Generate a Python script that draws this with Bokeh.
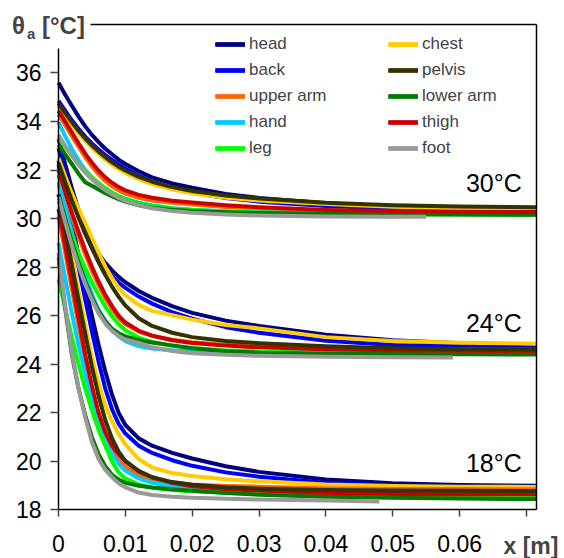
from bokeh.plotting import figure
from bokeh.models import Legend, LegendItem, Label, LinearAxis, FixedTicker, Range1d
from bokeh.embed import file_html
from bokeh.resources import INLINE

# ---------------- data ----------------
parts = ["head", "back", "upper arm", "hand", "leg", "chest", "pelvis", "lower arm", "thigh", "foot"]
part_colors = ["#000080", "#0000FF", "#FF6600", "#00CCFF", "#00FF00",
               "#FFCC00", "#333300", "#007A00", "#CC0000", "#999999"]

x_grid = [0, 0.001, 0.002, 0.003, 0.004, 0.005, 0.006, 0.007, 0.008, 0.009, 0.010,
          0.012, 0.014, 0.017, 0.020, 0.025, 0.030, 0.040, 0.050, 0.060, 0.0715]
x_foot_30 = [0, 0.001, 0.002, 0.003, 0.004, 0.005, 0.006, 0.007, 0.008, 0.009, 0.010,
             0.012, 0.014, 0.017, 0.020, 0.025, 0.030, 0.040, 0.050, 0.055]
x_foot_24 = [0, 0.001, 0.002, 0.003, 0.004, 0.005, 0.006, 0.007, 0.008, 0.009, 0.010,
             0.012, 0.014, 0.017, 0.020, 0.025, 0.030, 0.040, 0.050, 0.059]
x_foot_18 = [0, 0.001, 0.002, 0.003, 0.004, 0.005, 0.006, 0.007, 0.008, 0.009, 0.010,
             0.012, 0.014, 0.017, 0.020, 0.025, 0.030, 0.040, 0.048]

# ambient 30 °C
head_30 = [35.6, 35.1, 34.65, 34.2, 33.8, 33.45, 33.15, 32.88, 32.65, 32.43, 32.25, 31.95, 31.7, 31.45, 31.27, 31.02, 30.85, 30.63, 30.5, 30.44, 30.4]
back_30 = [34.85, 34.45, 34.05, 33.7, 33.38, 33.1, 32.85, 32.62, 32.42, 32.23, 32.06, 31.77, 31.53, 31.27, 31.08, 30.85, 30.7, 30.52, 30.42, 30.36, 30.33]
chest_30 = [34.65, 34.25, 33.87, 33.52, 33.2, 32.92, 32.66, 32.43, 32.22, 32.04, 31.88, 31.62, 31.42, 31.2, 31.04, 30.86, 30.75, 30.6, 30.49, 30.43, 30.39]
pelvis_30 = [34.75, 34.35, 33.97, 33.62, 33.3, 33.02, 32.76, 32.53, 32.32, 32.14, 31.98, 31.72, 31.52, 31.3, 31.14, 30.95, 30.83, 30.65, 30.55, 30.5, 30.47]
upper_arm_30 = [34.3, 33.85, 33.4, 32.95, 32.53, 32.15, 31.82, 31.55, 31.33, 31.16, 31.03, 30.86, 30.75, 30.65, 30.58, 30.48, 30.41, 30.32, 30.27, 30.24, 30.23]
lower_arm_30 = [33.05, 32.65, 32.25, 31.85, 31.5, 31.35, 31.2, 31.05, 30.92, 30.8, 30.7, 30.55, 30.45, 30.37, 30.31, 30.26, 30.23, 30.2, 30.18, 30.17, 30.16]
hand_30 = [33.97, 33.4, 32.87, 32.4, 32.0, 31.7, 31.45, 31.24, 31.07, 30.93, 30.82, 30.66, 30.55, 30.44, 30.37, 30.3, 30.26, 30.22, 30.2, 30.19, 30.18]
thigh_30 = [34.44, 34.0, 33.55, 33.1, 32.68, 32.3, 31.97, 31.7, 31.48, 31.3, 31.16, 30.98, 30.86, 30.74, 30.66, 30.55, 30.47, 30.36, 30.31, 30.28, 30.27]
leg_30 = [33.3, 32.95, 32.6, 32.27, 31.97, 31.7, 31.46, 31.26, 31.08, 30.93, 30.81, 30.63, 30.52, 30.42, 30.36, 30.29, 30.25, 30.2, 30.18, 30.17, 30.16]
foot_30 = [33.45, 33.0, 32.6, 32.22, 31.9, 31.62, 31.38, 31.17, 31.0, 30.85, 30.73, 30.55, 30.43, 30.31, 30.24, 30.17, 30.13, 30.09, 30.08, 30.08]

# ambient 24 °C
head_24 = [33.3, 32.25, 31.25, 30.35, 29.6, 29.0, 28.55, 28.18, 27.87, 27.6, 27.38, 27.02, 26.74, 26.4, 26.12, 25.8, 25.58, 25.22, 24.99, 24.87, 24.8]
back_24 = [32.9, 31.9, 30.95, 30.1, 29.38, 28.8, 28.33, 27.95, 27.64, 27.37, 27.15, 26.79, 26.5, 26.15, 25.88, 25.53, 25.3, 24.97, 24.8, 24.74, 24.7]
chest_24 = [32.5, 31.75, 31.05, 30.4, 29.82, 29.2, 28.6, 28.02, 27.55, 27.15, 26.85, 26.45, 26.2, 26.02, 25.84, 25.62, 25.48, 25.12, 24.96, 24.89, 24.85]
pelvis_24 = [32.3, 31.5, 30.75, 30.05, 29.4, 28.78, 28.2, 27.68, 27.2, 26.78, 26.42, 25.9, 25.58, 25.3, 25.12, 24.96, 24.87, 24.74, 24.66, 24.62, 24.6]
upper_arm_24 = [31.8, 30.9, 30.05, 29.25, 28.52, 27.85, 27.25, 26.72, 26.28, 25.9, 25.65, 25.35, 25.17, 25.01, 24.91, 24.81, 24.75, 24.67, 24.63, 24.61, 24.6]
lower_arm_24 = [31.0, 30.0, 29.05, 28.2, 27.42, 26.75, 26.2, 25.78, 25.47, 25.28, 25.15, 25.0, 24.9, 24.78, 24.66, 24.54, 24.48, 24.44, 24.42, 24.41, 24.4]
hand_24 = [31.5, 30.45, 29.45, 28.5, 27.65, 26.88, 26.25, 25.78, 25.42, 25.15, 24.96, 24.75, 24.65, 24.58, 24.55, 24.52, 24.51, 24.5, 24.5, 24.5, 24.5]
thigh_24 = [32.0, 31.1, 30.25, 29.45, 28.7, 28.02, 27.4, 26.86, 26.4, 26.0, 25.72, 25.38, 25.18, 24.99, 24.88, 24.77, 24.7, 24.62, 24.58, 24.56, 24.55]
leg_24 = [30.7, 29.95, 29.25, 28.58, 27.95, 27.38, 26.85, 26.38, 25.98, 25.65, 25.4, 25.1, 24.92, 24.76, 24.67, 24.58, 24.53, 24.48, 24.45, 24.43, 24.42]
foot_24 = [30.9, 29.85, 28.9, 28.05, 27.3, 26.65, 26.1, 25.68, 25.38, 25.17, 25.02, 24.88, 24.7, 24.55, 24.46, 24.39, 24.35, 24.31, 24.29, 24.28]

# ambient 18 °C
head_18 = [32.4, 31.1, 29.8, 28.5, 27.25, 26.0, 24.8, 23.7, 22.75, 22.0, 21.5, 20.95, 20.65, 20.35, 20.12, 19.8, 19.57, 19.26, 19.1, 19.03, 19.0]
back_18 = [32.2, 30.8, 29.4, 28.0, 26.65, 25.35, 24.1, 23.0, 22.15, 21.55, 21.15, 20.65, 20.35, 20.05, 19.82, 19.55, 19.37, 19.12, 18.99, 18.93, 18.9]
chest_18 = [31.4, 29.9, 28.45, 27.0, 25.6, 24.3, 23.2, 22.3, 21.65, 21.12, 20.7, 20.1, 19.75, 19.52, 19.4, 19.27, 19.18, 19.05, 18.99, 18.96, 18.95]
pelvis_18 = [31.0, 29.55, 28.1, 26.65, 25.25, 23.9, 22.7, 21.7, 20.95, 20.4, 20.02, 19.6, 19.35, 19.15, 19.04, 18.94, 18.88, 18.82, 18.8, 18.79, 18.78]
upper_arm_18 = [30.1, 28.6, 27.1, 25.6, 24.2, 22.95, 21.9, 21.05, 20.45, 20.05, 19.78, 19.45, 19.28, 19.13, 19.05, 18.99, 18.96, 18.9, 18.87, 18.86, 18.85]
lower_arm_18 = [28.4, 26.3, 24.4, 23.0, 21.9, 21.0, 20.3, 19.8, 19.45, 19.25, 19.12, 19.0, 18.93, 18.85, 18.79, 18.7, 18.63, 18.55, 18.5, 18.47, 18.45]
hand_18 = [29.0, 27.55, 26.1, 24.8, 23.6, 22.55, 21.65, 20.9, 20.3, 19.9, 19.62, 19.3, 19.12, 18.98, 18.91, 18.85, 18.82, 18.79, 18.77, 18.76, 18.75]
thigh_18 = [30.4, 28.9, 27.4, 25.9, 24.4, 23.1, 22.0, 21.2, 20.65, 20.3, 20.0, 19.6, 19.35, 19.12, 18.98, 18.86, 18.8, 18.7, 18.66, 18.65, 18.65]
leg_18 = [27.5, 26.3, 25.1, 24.0, 23.0, 22.1, 21.3, 20.65, 20.0, 19.55, 19.3, 19.05, 18.92, 18.82, 18.77, 18.72, 18.68, 18.56, 18.52, 18.5, 18.5]
foot_18 = [28.6, 26.4, 24.5, 23.0, 21.8, 20.8, 20.1, 19.65, 19.35, 19.1, 18.93, 18.72, 18.62, 18.55, 18.5, 18.46, 18.43, 18.39, 18.35]

x_ticks = [0, 0.01, 0.02, 0.03, 0.04, 0.05, 0.06, 0.07]
x_tick_labels = ["0", "0.01", "0.02", "0.03", "0.04", "0.05", "0.06", ""]
y_ticks = [18, 20, 22, 24, 26, 28, 30, 32, 34, 36]
ambient_labels = ["30°C", "24°C", "18°C"]

series = {
    "head": [(x_grid, head_30), (x_grid, head_24), (x_grid, head_18)],
    "back": [(x_grid, back_30), (x_grid, back_24), (x_grid, back_18)],
    "upper arm": [(x_grid, upper_arm_30), (x_grid, upper_arm_24), (x_grid, upper_arm_18)],
    "hand": [(x_grid, hand_30), (x_grid, hand_24), (x_grid, hand_18)],
    "leg": [(x_grid, leg_30), (x_grid, leg_24), (x_grid, leg_18)],
    "chest": [(x_grid, chest_30), (x_grid, chest_24), (x_grid, chest_18)],
    "pelvis": [(x_grid, pelvis_30), (x_grid, pelvis_24), (x_grid, pelvis_18)],
    "lower arm": [(x_grid, lower_arm_30), (x_grid, lower_arm_24), (x_grid, lower_arm_18)],
    "thigh": [(x_grid, thigh_30), (x_grid, thigh_24), (x_grid, thigh_18)],
    "foot": [(x_foot_30, foot_30), (x_foot_24, foot_24), (x_foot_18, foot_18)],
}

# ---------------- figure ----------------
FONT = "Liberation Sans"
X_MIN, X_MAX = 0.0, 0.0715       # visible axis extent
Y_MIN, Y_MAX = 18.0, 38.0
# the frame fills the whole canvas; axes are pinned at fixed data positions
p = figure(width=564, height=558, output_backend="svg", toolbar_location=None,
           x_range=Range1d(-0.008676, 0.07569), y_range=Range1d(16.0025, 38.984),
           min_border=0, background_fill_color="white", border_fill_color="white",
           outline_line_color=None)
p.title.visible = False
p.xgrid.visible = False
p.ygrid.visible = False

draw_order = ["head", "back", "chest", "upper arm", "hand", "leg", "lower arm", "thigh", "pelvis", "foot"]
renderers = {}
for name in draw_order:
    col = part_colors[parts.index(name)]
    renderers[name] = []
    for xs, ys in series[name]:
        r = p.line(xs, ys, line_color=col, line_width=4, line_join="round", line_cap="butt")
        renderers[name].append(r)

# axes
xa = p.xaxis[0]
xa.ticker = FixedTicker(ticks=x_ticks)
xa.major_label_overrides = {t: lab for t, lab in zip(x_ticks, x_tick_labels)}
xa.fixed_location = Y_MIN
xa.bounds = (X_MIN, X_MAX)
ya = p.yaxis[0]
ya.ticker = FixedTicker(ticks=y_ticks)
ya.fixed_location = X_MIN
ya.bounds = (Y_MIN, 37)
for ax in (xa, ya):
    ax.axis_line_color = "black"
    ax.axis_line_width = 1.5
    ax.major_tick_line_color = "#444444"
    ax.major_tick_line_width = 1.5
    ax.major_tick_in = 0
    ax.minor_tick_line_color = None
    ax.major_label_text_font = FONT
    ax.major_label_text_font_size = "23px"
    ax.major_label_text_color = "black"
xa.major_tick_out = 7
xa.major_label_standoff = 18
ya.major_tick_out = 8
ya.major_label_standoff = 9

# top and right frame lines
top_ax = LinearAxis(ticker=FixedTicker(ticks=[]), bounds=(0.0048, X_MAX), fixed_location=Y_MAX,
                    axis_line_color="black", axis_line_width=1.5,
                    major_tick_line_color=None, minor_tick_line_color=None,
                    major_label_text_font_size="0px")
p.add_layout(top_ax, "above")
right_ax = LinearAxis(ticker=FixedTicker(ticks=[]), bounds=(Y_MIN, Y_MAX), fixed_location=X_MAX,
                      axis_line_color="black", axis_line_width=1.5,
                      major_tick_line_color=None, minor_tick_line_color=None,
                      major_label_text_font_size="0px")
p.add_layout(right_ax, "right")

# legend (column-major: left column first)
items = [LegendItem(label=name, renderers=renderers[name]) for name in parts]
legend = Legend(items=items, location=(215, 397), orientation="vertical", ncols=2,
                glyph_width=30, glyph_height=26, label_height=26, label_width=139,
                label_standoff=4, spacing=0, padding=0, margin=0,
                label_text_font=FONT, label_text_font_size="17px",
                border_line_color=None, background_fill_alpha=0)
p.add_layout(legend)

# ambient temperature annotations
for txt, yy in zip(ambient_labels, [31.47, 25.70, 19.92]):
    p.add_layout(Label(x=0.0693, y=yy, text=txt, text_align="right", text_baseline="middle",
                       text_font=FONT, text_font_size="25px", text_color="black"))

# axis titles
p.add_layout(Label(x=-0.00696, y=37.95, text="θ", text_font=FONT, text_font_size="24px",
                   text_font_style="bold", text_baseline="middle"))
p.add_layout(Label(x=-0.00471, y=37.62, text="a", text_font=FONT, text_font_size="15px",
                   text_font_style="bold", text_baseline="middle"))
p.add_layout(Label(x=-0.00247, y=37.97, text="[°C]", text_font=FONT, text_font_size="24px",
                   text_font_style="bold", text_baseline="middle"))
p.add_layout(Label(x=0.07479, y=16.5, text="x [m]", text_align="right", text_font=FONT,
                   text_font_size="23px", text_font_style="bold", text_baseline="middle"))

open("out.html", "w").write(file_html(p, INLINE))
